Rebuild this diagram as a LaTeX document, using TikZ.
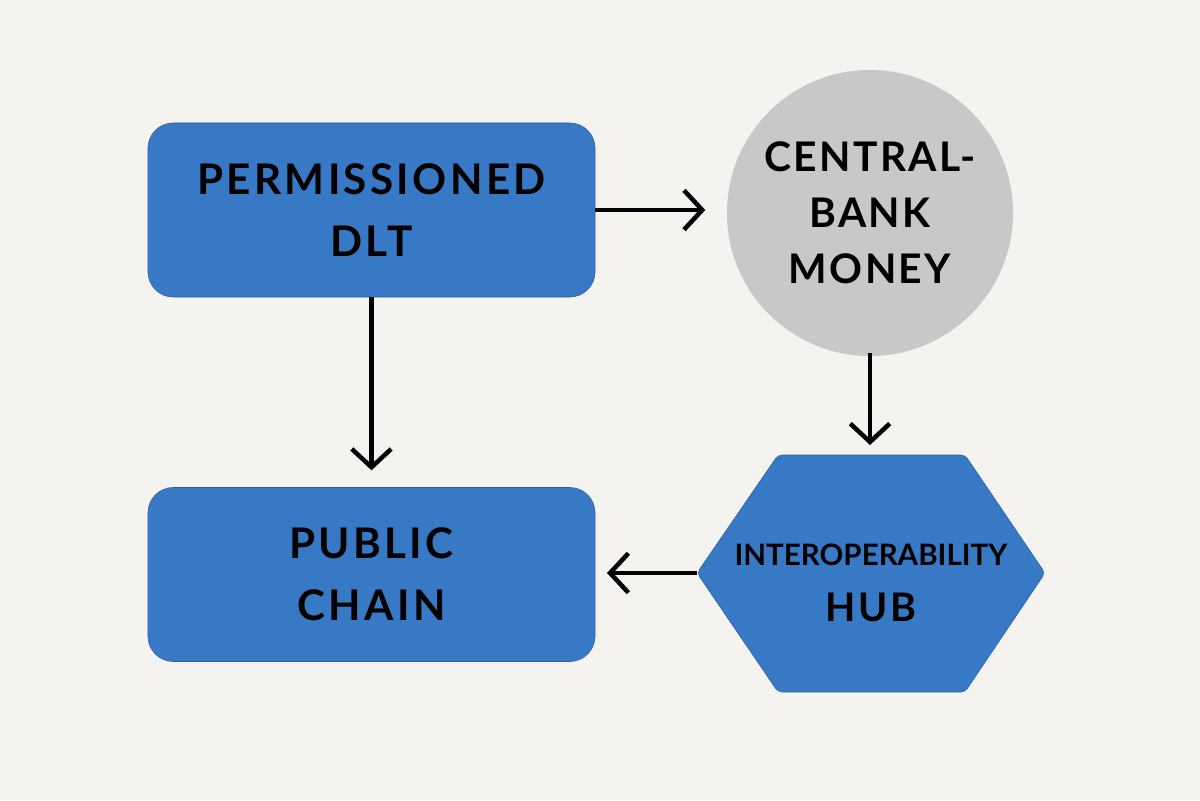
\documentclass[tikz,border=0pt]{standalone}
\usepackage{fontspec}
\setmainfont{Lato}
\usetikzlibrary{arrows.meta,positioning}
\definecolor{boxblue}{HTML}{3879C5}
\definecolor{coingray}{HTML}{C8C8C8}
\definecolor{paper}{HTML}{F5F3EF}
\tikzset{
  chainbox/.style={rectangle, rounded corners=18pt, fill=boxblue, draw=boxblue!80!black, line width=0.4pt,
    minimum width=11.175cm, minimum height=4.35cm, align=center,
    font=\fontsize{30}{44}\selectfont\bfseries\addfontfeatures{LetterSpace=8}},
  flow/.style={line width=3.2pt, -{Straight Barb[length=13pt,width=28pt,line width=3.2pt]}}
}
\begin{document}
\begin{tikzpicture}[x=0.025cm,y=-0.025cm]
        \fill[paper] (0,0) rectangle (1200,800);
        \useasboundingbox (0,0) rectangle (1200,800);

        \node (dlt) [chainbox] at (371.5,210) {PERMISSIONED\\DLT};
        \node (pub) [chainbox] at (371.5,574.5) {PUBLIC\\CHAIN};
        \node (cbm) [circle, fill=coingray, minimum size=7.15cm, align=center,
          font=\fontsize{29}{40}\selectfont\bfseries\addfontfeatures{LetterSpace=6}] at (870,213) {CENTRAL-\\BANK\\MONEY};

        % hexagon for the hub
        \coordinate (hubW) at (697,573);
        \fill[boxblue, draw=boxblue!80!black, line width=0.4pt, rounded corners=3pt]
          (hubW) -- (778,455) -- (965,455) -- (1045,573) -- (965,692) -- (778,692) -- cycle;
        \node (hub) [align=center, font=\fontsize{21}{40}\selectfont\bfseries] at (871,583)
          {INTEROPERABILITY\\{\fontsize{28}{40}\selectfont\addfontfeatures{LetterSpace=6}HUB}};

        \draw[flow] (dlt.east) -- ++(110,0);
        \draw[flow] (dlt.south) -- ++(0,173);
        \draw[flow] (cbm.south) ++(0,-3) -- (870,445);
        \draw[flow] (hubW) -- (607,573);
\end{tikzpicture}
\end{document}
